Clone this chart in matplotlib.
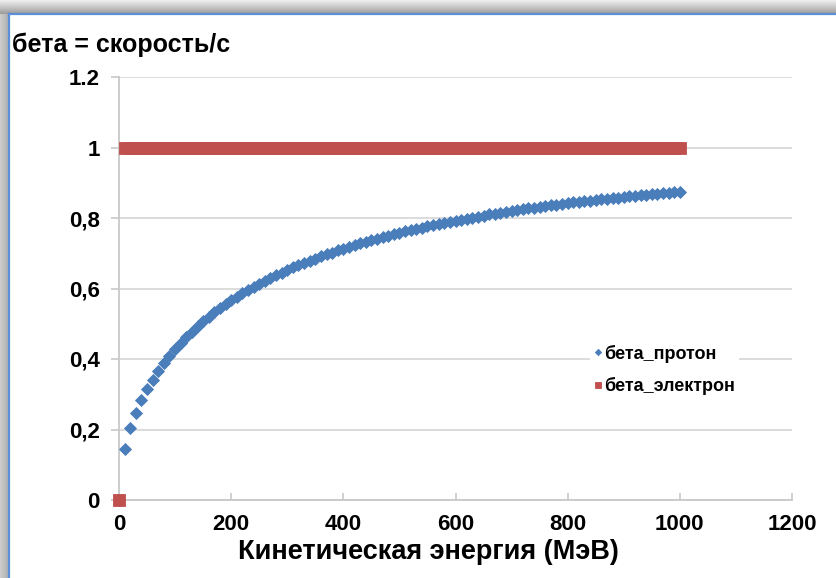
import matplotlib
matplotlib.use("Agg")
import matplotlib.pyplot as plt
import numpy as np

# kinetic energy, MeV (one point every 10 MeV)
energy = [
    0, 10, 20, 30, 40, 50, 60, 70, 80, 90,
    100, 110, 120, 130, 140, 150, 160, 170, 180, 190,
    200, 210, 220, 230, 240, 250, 260, 270, 280, 290,
    300, 310, 320, 330, 340, 350, 360, 370, 380, 390,
    400, 410, 420, 430, 440, 450, 460, 470, 480, 490,
    500, 510, 520, 530, 540, 550, 560, 570, 580, 590,
    600, 610, 620, 630, 640, 650, 660, 670, 680, 690,
    700, 710, 720, 730, 740, 750, 760, 770, 780, 790,
    800, 810, 820, 830, 840, 850, 860, 870, 880, 890,
    900, 910, 920, 930, 940, 950, 960, 970, 980, 990,
    1000,
]

beta_proton = [
    0.000, 0.145, 0.203, 0.247, 0.283, 0.314, 0.341, 0.366, 0.389, 0.409,
    0.428, 0.446, 0.463, 0.478, 0.493, 0.507, 0.520, 0.532, 0.544, 0.555,
    0.566, 0.576, 0.586, 0.596, 0.605, 0.614, 0.622, 0.630, 0.638, 0.645,
    0.653, 0.660, 0.666, 0.673, 0.679, 0.685, 0.691, 0.697, 0.702, 0.708,
    0.713, 0.718, 0.723, 0.728, 0.733, 0.737, 0.741, 0.746, 0.750, 0.754,
    0.758, 0.762, 0.766, 0.769, 0.773, 0.776, 0.780, 0.783, 0.786, 0.789,
    0.792, 0.795, 0.798, 0.801, 0.804, 0.807, 0.810, 0.812, 0.815, 0.817,
    0.820, 0.822, 0.825, 0.827, 0.829, 0.831, 0.834, 0.836, 0.838, 0.840,
    0.842, 0.844, 0.846, 0.848, 0.849, 0.851, 0.853, 0.855, 0.857, 0.858,
    0.860, 0.862, 0.863, 0.865, 0.866, 0.868, 0.869, 0.871, 0.872, 0.874,
    0.875,
]

beta_electron = [0.0, 0.999] + [1.0] * 99

y_ticks = [0, 0.2, 0.4, 0.6, 0.8, 1.0, 1.2]
y_labels = ["0", "0,2", "0,4", "0,6", "0,8", "1", "1.2"]
x_ticks = [0, 200, 400, 600, 800, 1000, 1200]

BLUE = "#4a7ebb"
RED = "#c0504d"
GRID = "#d9d9d9"
FONT = ["Liberation Sans", "DejaVu Sans"]

W, H = 837, 578
fig = plt.figure(figsize=(W / 100, H / 100), dpi=100)
fig.patch.set_facecolor("white")

# window frame: grey shadow and thin blue border
bg = fig.add_axes([0, 0, 1, 1], zorder=-10)
bg.set_xlim(0, W)
bg.set_ylim(H, 0)
bg.axis("off")
bg.imshow(np.linspace(0.93, 0.62, 14)[:, None], extent=(0, W, 14, 0),
          cmap="gray", vmin=0, vmax=1, aspect="auto")
bg.imshow(np.linspace(0.80, 0.68, 9)[None, :], extent=(0, 9, H, 14),
          cmap="gray", vmin=0, vmax=1, aspect="auto")
bg.plot([9.5, 9.5], [14, H], color="#5b8fd6", lw=1.6)
bg.plot([9.5, W], [14, 14], color="#5b8fd6", lw=1.6)

# plot area
x0, x1, y0, y1 = 119, 792, 77, 500
ax = fig.add_axes([x0 / W, 1 - y1 / H, (x1 - x0) / W, (y1 - y0) / H])

ax.plot(energy, beta_proton, linestyle="none", marker="D", markersize=6.4,
        color=BLUE, markeredgecolor=BLUE, markeredgewidth=0.6,
        label="бета_протон", clip_on=False, zorder=3)
ax.plot(energy, beta_electron, linestyle="none", marker="s", markersize=8.6,
        color=RED, markeredgecolor=RED, markeredgewidth=0.6,
        label="бета_электрон", clip_on=False, zorder=4)

ax.set_xlim(0, 1200)
ax.set_ylim(0, 1.2)
ax.set_xticks(x_ticks)
ax.set_xticklabels([str(v) for v in x_ticks])
ax.set_yticks(y_ticks)
ax.set_yticklabels(y_labels)

for lab in ax.get_xticklabels() + ax.get_yticklabels():
    lab.set_fontfamily(FONT)
    lab.set_fontweight("bold")
    lab.set_fontsize(16)
    lab.set_color("black")

ax.grid(axis="y", color=GRID, lw=1.3)
ax.set_axisbelow(True)
for s in ["top", "right"]:
    ax.spines[s].set_visible(False)
for s in ["left", "bottom"]:
    ax.spines[s].set_color("#c8c8c8")
    ax.spines[s].set_linewidth(1.3)
ax.tick_params(axis="y", direction="out", length=6, width=1.2, color="#c8c8c8", pad=8)
ax.tick_params(axis="x", direction="in", length=5, width=1.2, color="#c8c8c8", pad=10)

leg = ax.legend(loc="upper left", bbox_to_anchor=(590 / W, 1 - 341 / H),
                bbox_transform=fig.transFigure, frameon=True, fancybox=False,
                markerscale=0.5, handlelength=0.5, handletextpad=0.1,
                labelspacing=0.8, borderpad=0.2, borderaxespad=0,
                prop={"family": FONT, "weight": "bold", "size": 13})
leg.get_frame().set_facecolor("white")
leg.get_frame().set_edgecolor("none")
leg.get_frame().set_alpha(1)

fig.text(12 / W, 1 - 45 / H, "бета = скорость/с", ha="left", va="center",
         fontfamily=FONT, fontweight="bold", fontsize=18)
fig.text(428 / W, 1 - 552 / H, "Кинетическая энергия (МэВ)", ha="center", va="center",
         fontfamily=FONT, fontweight="bold", fontsize=19.5)

fig.savefig("out.png", dpi=100)
